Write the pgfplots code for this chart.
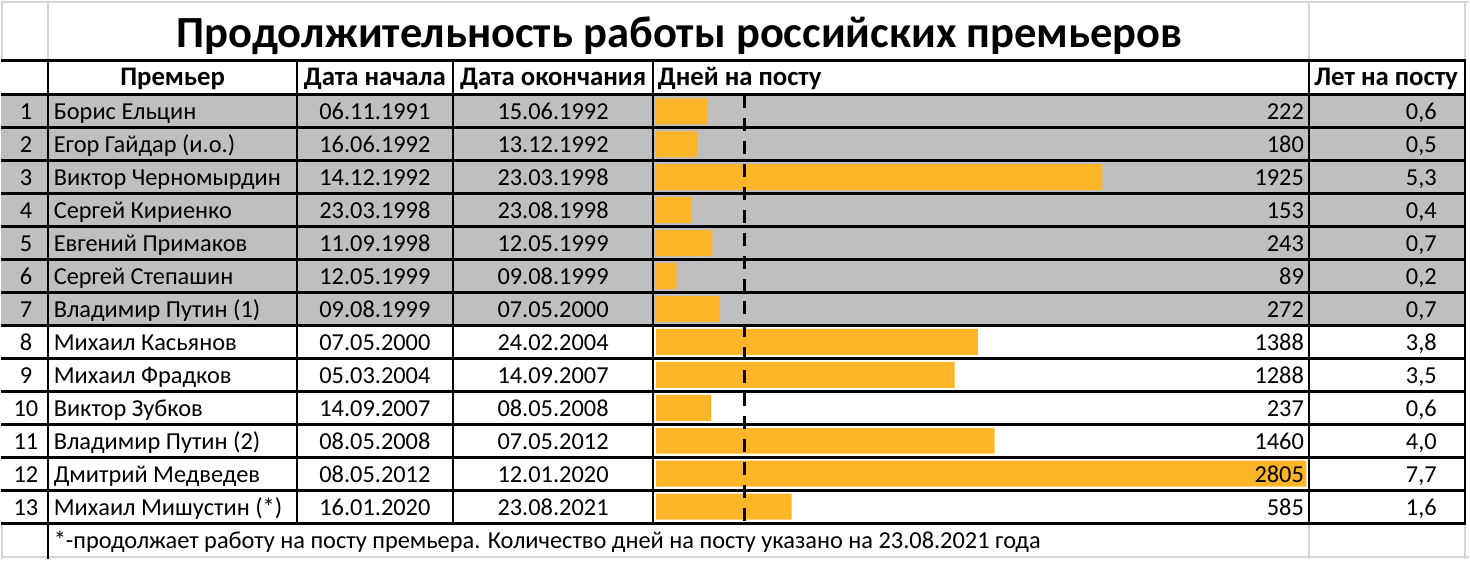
\documentclass[border=0pt]{standalone}
\usepackage{pgfplots}
\pgfplotsset{compat=1.18}
\usepackage{pgfplotstable}
\usepackage{fontspec}
\setmainfont{Carlito}
\definecolor{bargold}{RGB}{255,181,40}
\definecolor{rowgray}{RGB}{191,191,191}
\definecolor{gridgray}{RGB}{214,214,214}
\pgfplotstableread{
row days
1 222
2 180
3 1925
4 153
5 243
6 89
7 272
8 1388
9 1288
10 237
11 1460
12 2805
13 585
}\daystable
\begin{document}
\begin{tikzpicture}
\newcommand{\tf}{\fontsize{12.2}{14}\selectfont}
\newcommand{\hf}{\fontsize{13.4}{15}\selectfont\bfseries}
\begin{scope}[x=0.5pt,y=-0.5pt]
\path (0,0) rectangle (1470,559);
\fill[white] (0,0) rectangle (1470,559);
\fill[rowgray] (0,94) rectangle (1466,325);
\end{scope}
\begin{axis}[at={(490.675pt,-154.25pt)}, anchor=center, scale only axis,
  width=325.65pt, height=214.5pt, xmin=0, xmax=2805, ymin=0.5, ymax=13.5,
  y dir=reverse, hide axis, clip=false]
\addplot[xbar, bar width=13pt, fill=bargold, draw=none] table[x=days,y=row]{\daystable};
\addplot[black, line width=1.75pt, dash pattern=on 6.5pt off 5pt] coordinates {(382,0.5) (382,13.5)};
\end{axis}
\begin{scope}[x=0.5pt,y=-0.5pt]
% light spreadsheet grid
\draw[gridgray, line width=1pt] (0,1.5) -- (1470,1.5);
\draw[gridgray, line width=1pt] (0.5,0) -- (0.5,60) (47,0) -- (47,60) (1310,0) -- (1310,60) (1466,0) -- (1466,60);
\draw[gridgray, line width=1pt] (1310,523) -- (1310,559) (1466,523) -- (1466,559) (0,557) -- (1470,557) (0.5,523) -- (0.5,559);
% black table grid
\draw[line width=1.5pt] (0,60) -- (1467,60);
\foreach \k in {0,...,13} \draw[line width=1.5pt] (0,94+33*\k) -- (1467,94+33*\k);
\foreach \x in {47,296,452,653,1310,1466} \draw[line width=1pt] (\x,60) -- (\x,523);
\draw[line width=1pt] (47,523) -- (47,559);
% title
\node[anchor=base, inner sep=0pt, font=\fontsize{22.3}{27}\selectfont\bfseries] at (679,47) {Продолжительность работы российских премьеров};
% header
\begin{scope}[every node/.style={anchor=base, inner sep=0pt, font=\hf}]
\node at (171.5,85) {Премьер};
\node at (374,85) {Дата начала};
\node at (552.5,85) {Дата окончания};
\node[anchor=base west] at (657,85) {Дней на посту};
\node at (1387,85) {Лет на посту};
\end{scope}
% rows
\foreach \n/\name/\sd/\ed/\dd/\yy [count=\k from 0] in {
 1/Борис Ельцин/06.11.1991/15.06.1992/222/{0,6},
 2/Егор Гайдар (и.о.)/16.06.1992/13.12.1992/180/{0,5},
 3/Виктор Черномырдин/14.12.1992/23.03.1998/1925/{5,3},
 4/Сергей Кириенко/23.03.1998/23.08.1998/153/{0,4},
 5/Евгений Примаков/11.09.1998/12.05.1999/243/{0,7},
 6/Сергей Степашин/12.05.1999/09.08.1999/89/{0,2},
 7/Владимир Путин (1)/09.08.1999/07.05.2000/272/{0,7},
 8/Михаил Касьянов/07.05.2000/24.02.2004/1388/{3,8},
 9/Михаил Фрадков/05.03.2004/14.09.2007/1288/{3,5},
 10/Виктор Зубков/14.09.2007/08.05.2008/237/{0,6},
 11/Владимир Путин (2)/08.05.2008/07.05.2012/1460/{4,0},
 12/Дмитрий Медведев/08.05.2012/12.01.2020/2805/{7,7},
 13/Михаил Мишустин (*)/16.01.2020/23.08.2021/585/{1,6}}{
 \pgfmathsetmacro{\yb}{119+33*\k}
 \node[anchor=base, inner sep=0pt, font=\tf] at (24.5,\yb) {\n};
 \node[anchor=base west, inner sep=0pt, font=\tf] at (52,\yb) {\name};
 \node[anchor=base, inner sep=0pt, font=\tf] at (374,\yb) {\sd};
 \node[anchor=base, inner sep=0pt, font=\tf] at (552.5,\yb) {\ed};
 \node[anchor=base east, inner sep=0pt, font=\tf] at (1305,\yb) {\dd};
 \node[anchor=base east, inner sep=0pt, font=\tf] at (1438,\yb) {\yy};
}
% footer
\node[anchor=base west, inner sep=0pt, font=\tf] at (52,548) {*-продолжает работу на посту премьера. Количество дней на посту указано на 23.08.2021 года};
\end{scope}
\end{tikzpicture}
\end{document}
